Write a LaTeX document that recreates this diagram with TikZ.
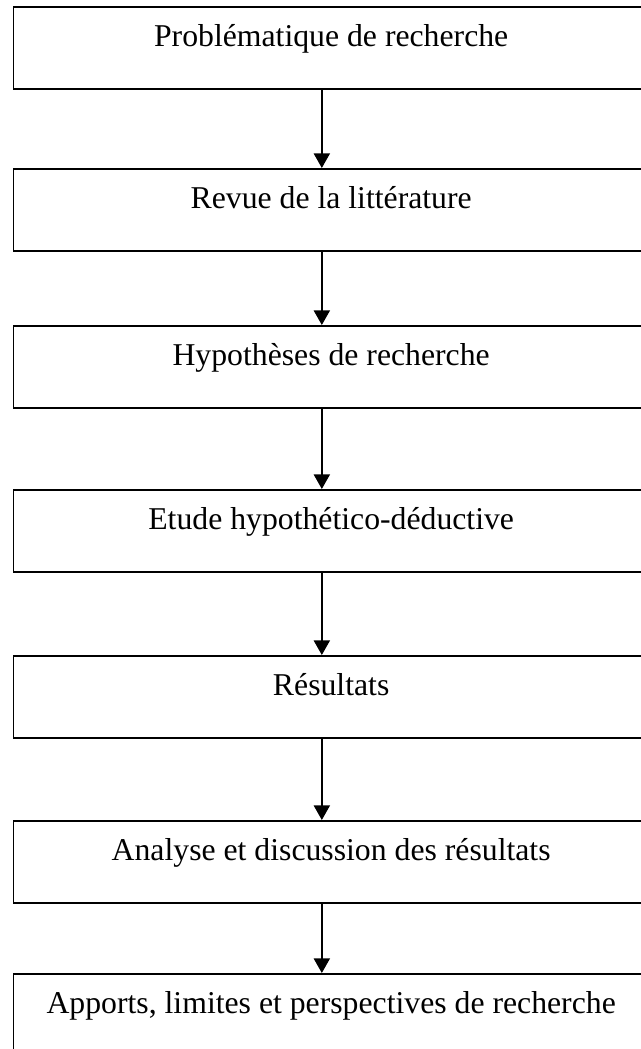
\documentclass[tikz,border=0pt]{standalone}
\usepackage{fontspec}
\setmainfont{Liberation Serif}
\usetikzlibrary{arrows.meta}
\begin{document}
\begin{tikzpicture}[x=0.75pt, y=-0.75pt,
  stagebox/.style={draw, line width=1.2pt, rectangle, inner sep=0pt,
    minimum width=476.5pt, minimum height=61.5pt, anchor=north west},
  stagetext/.style={anchor=base, inner sep=0pt,
    font=\fontsize{23.8}{28}\selectfont},
  flow/.style={line width=1.7pt, -{Triangle[width=12pt, length=11pt]}}]
\useasboundingbox (0,0) rectangle (641,1049);

% stage boxes (the frame runs past the right edge)
\node[stagebox] (b1) at (12.7,6)   {};
\node[stagebox] (b2) at (12.7,168) {};
\node[stagebox] (b3) at (12.7,325) {};
\node[stagebox] (b4) at (12.7,489) {};
\node[stagebox] (b5) at (12.7,655) {};
\node[stagebox] (b6) at (12.7,820) {};
\node[stagebox] (b7) at (12.7,973) {};

% stage titles
\node[stagetext] (t1) at ([yshift=-30.5pt]b1.north) {Problématique de recherche};
\node[stagetext] (t2) at ([yshift=-30.5pt]b2.north) {Revue de la littérature};
\node[stagetext] (t3) at ([yshift=-30.5pt]b3.north) {Hypothèses de recherche};
\node[stagetext] (t4) at ([yshift=-30.5pt]b4.north) {Etude hypothético-déductive};
\node[stagetext] (t5) at ([yshift=-30.5pt]b5.north) {Résultats};
\node[stagetext] (t6) at ([yshift=-30.5pt]b6.north) {Analyse et discussion des résultats};
\node[stagetext] (t7) at ([yshift=-30.5pt]b7.north) {Apports, limites et perspectives de recherche};

% connectors
\foreach \a/\b in {b1/b2, b2/b3, b3/b4, b4/b5, b5/b6, b6/b7}
  \draw[flow] ([xshift=-7pt]\a.south) -- ([xshift=-7pt]\b.north);
\end{tikzpicture}
\end{document}
